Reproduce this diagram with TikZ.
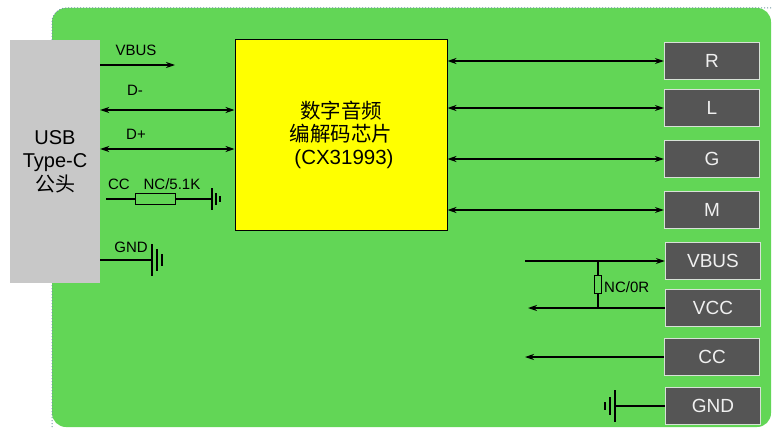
\documentclass[tikz,border=0pt]{standalone}
\usepackage{fontspec}
\setmainfont{Liberation Sans}
\newfontfamily\cjk{Noto Sans CJK SC}
\usetikzlibrary{positioning,arrows.meta}
\tikzset{>={Stealth[length=9pt,width=6pt]}}
\definecolor{boardgreen}{RGB}{98,214,86}
\definecolor{boardedge}{RGB}{110,150,160}
\definecolor{usbgrey}{RGB}{200,200,200}
\definecolor{portgrey}{RGB}{85,85,85}
\definecolor{portedge}{RGB}{215,225,215}
\definecolor{portext}{RGB}{240,240,240}
\definecolor{chipyellow}{RGB}{255,255,0}

\begin{document}
\begin{tikzpicture}[
        x=1pt, y=-1pt,
        port/.style={
            draw=portedge,
            line width=1.2pt,
            fill=portgrey,
            text=portext,
            minimum width=95pt,
            minimum height=37pt,
            font=\fontsize{19}{22}\selectfont,
          },
        sig/.style={line width=1.2pt},
        lbl/.style={inner sep=0pt, font=\fontsize{15}{17}\selectfont},
        res/.style={draw, line width=1pt, inner sep=0pt},
      ]
      \useasboundingbox (0,0) rectangle (773,428);
      \fill[boardgreen, rounded corners=14pt] (52,8) rectangle (771,427);
      \draw[boardedge, dotted, line width=1pt, rounded corners=14pt] (52,427) -- (52,8) -- (771,8);

      % connector and codec
      \node [
        fill=usbgrey,
        minimum width=90pt,
        minimum height=243pt,
        align=center,
        font=\fontsize{20}{23.5}\selectfont
      ] (usb) at (55,161.5) {USB\\Type-C\\{\cjk 公头}};
      \node [
        draw,
        line width=1pt,
        fill=chipyellow,
        minimum width=212pt,
        minimum height=190pt,
        align=center,
        font=\fontsize{20.5}{23}\selectfont
      ] (codec) at (341,135) {{\cjk 数字音频}\\{\cjk 编解码芯片}\\\hspace*{6pt}(CX31993)};

      % output ports
      \node [port] (r) at (712,61) {R};
      \node [port] (l) at (712,108) {L};
      \node [port] (g) at (712,159) {G};
      \node [port] (m) at (712,210) {M};
      \node [port] (vbus) at (713,261) {VBUS};
      \node [port] (vcc) at (713,308) {VCC};
      \node [port] (cc) at (712,357) {CC};
      \node [port] (gnd) at (713,406) {GND};

      % left side signals
      \coordinate (vbusend) at (175,65);
      \coordinate (dm) at (0,110);
      \coordinate (dp) at (0,149);
      \coordinate (ccstart) at (106,199);
      \coordinate (gndleft) at (212,199);
      \coordinate (gndusb) at (152,260);
      \node [res, minimum width=40pt, minimum height=11pt] (rcc) at (155,199) {};

      \node [lbl] (vbuslbl) at (136,50) {VBUS};
      \node [lbl] (dmlbl) at (135,90) {D-};
      \node [lbl] (dplbl) at (136,134) {D+};
      \node [lbl] (cclbl) at (119,184.5) {CC};
      \node [lbl] (rcclbl) at (172,184.5) {NC/5.1K};
      \node [lbl] (gndlbl) at (131,247) {GND};

      \draw[sig, ->] (usb.east |- vbusend) -- (vbusend);
      \draw[sig, <->] (usb.east |- dm) -- (codec.west |- dm);
      \draw[sig, <->] (usb.east |- dp) -- (codec.west |- dp);
      \draw[sig] (ccstart) -- (rcc.west);
      \draw[sig] (rcc.east) -- (gndleft);
      \draw[sig] (gndleft) ++(0,-11) -- ++(0,22) ++(4,-17) -- ++(0,12) ++(4,-9) -- ++(0,6);
      \draw[sig] (usb.east |- gndusb) -- (gndusb);
      \draw[sig] (gndusb) ++(0,-16) -- ++(0,32) ++(5,-27) -- ++(0,22) ++(5,-17) -- ++(0,12);

      % codec to ports
      \draw[sig, <->] (codec.east |- r.west) -- (r.west);
      \draw[sig, <->] (codec.east |- l.west) -- (l.west);
      \draw[sig, <->] (codec.east |- g.west) -- (g.west);
      \draw[sig, <->] (codec.east |- m.west) -- (m.west);

      % power ports
      \coordinate (vbusin) at (525,261);
      \coordinate (vccout) at (528,308);
      \coordinate (ccout) at (525,357);
      \coordinate (gndright) at (615,406);
      \node [res, minimum width=7pt, minimum height=18pt] (r0) at (598,284) {};
      \node [lbl, anchor=west] (r0lbl) at (604,287) {NC/0R};

      \draw[sig, ->] (vbusin) -- (vbus.west);
      \draw[sig, ->] (vcc.west) -- (vccout);
      \draw[sig] (r0.north) -- (r0.north |- vbus.west);
      \draw[sig] (r0.south) -- (r0.south |- vcc.west);
      \draw[sig, ->] (cc.west) -- (ccout);
      \draw[sig] (gnd.west) -- (gndright);
      \draw[sig] (gndright) ++(0,-16) -- ++(0,32) ++(-5,-25) -- ++(0,18) ++(-5,-13) -- ++(0,8);
    \end{tikzpicture}
\end{document}
